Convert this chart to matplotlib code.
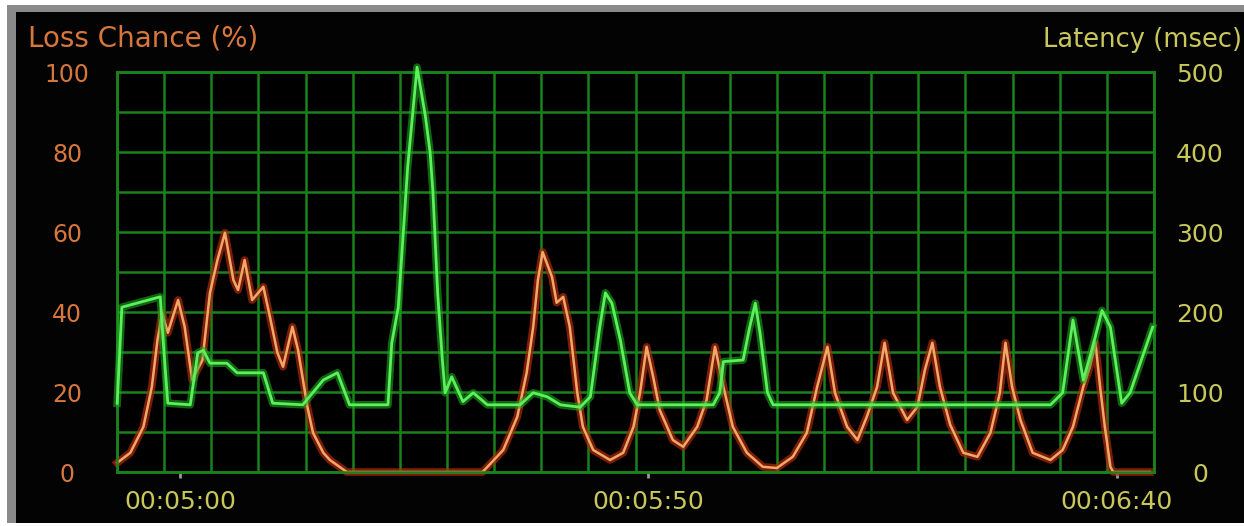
import numpy as np
import matplotlib
matplotlib.use("Agg")
import matplotlib.pyplot as plt
from matplotlib.patches import Rectangle

# time in seconds (00:05:00 = 300)
lat_t = [293.3, 293.8, 297.9, 298.2, 298.7, 301.1, 301.9, 302.5, 303.2, 305.0,
         306.1, 308.9, 309.9, 313.1, 315.3, 316.8, 318.1, 322.2, 322.6, 323.3,
         324.3, 325.3, 326.2, 326.7, 327.0, 327.5, 328.0, 328.3, 329.0, 330.2,
         331.3, 332.8, 336.3, 337.7, 339.2, 340.6, 342.7, 343.8, 344.8, 345.4,
         346.1, 347.0, 348.0, 348.8, 356.9, 357.6, 358.0, 360.1, 360.8, 361.4,
         361.9, 362.7, 363.3, 392.9, 394.2, 395.3, 396.4, 397.4, 398.4, 399.3,
         400.5, 401.4, 403.8]
latency = [86, 206, 219, 165, 86, 84, 149, 152, 136, 136,
           124, 124, 86, 84, 115, 124, 84, 84, 161, 206,
           381, 506, 444, 399, 349, 224, 140, 99, 119, 88,
           99, 84, 84, 99, 94, 84, 81, 94, 181, 224,
           211, 165, 99, 84, 84, 99, 138, 140, 181, 211,
           174, 99, 84, 84, 99, 190, 115, 156, 202, 181,
           86, 99, 181]

loss_t = [293.3, 294.7, 296.1, 297.0, 297.6, 298.1, 298.7, 299.8, 300.5, 301.3,
          302.4, 303.2, 304.0, 304.8, 305.7, 306.2, 306.9, 307.7, 308.9, 309.6,
          310.4, 311.0, 312.0, 312.6, 313.6, 314.2, 315.3, 316.0, 317.8, 332.3,
          334.5, 336.0, 337.0, 337.7, 338.2, 338.7, 339.7, 340.2, 340.9, 341.6,
          342.4, 343.0, 344.1, 345.9, 347.3, 348.4, 349.1, 349.8, 350.5, 351.2,
          352.6, 353.7, 355.2, 356.2, 357.1, 358.0, 359.0, 360.5, 362.2, 363.7,
          365.4, 366.9, 368.0, 369.1, 369.9, 371.2, 372.3, 373.3, 374.4, 375.2,
          376.1, 377.6, 378.7, 379.5, 380.3, 381.1, 382.2, 383.6, 385.1, 386.5,
          387.5, 388.1, 388.8, 389.7, 391.0, 392.9, 394.2, 395.3, 396.4, 397.1,
          397.7, 398.2, 398.7, 399.3, 399.6, 403.5]
loss = [2.3, 4.8, 11.3, 21.3, 33, 39.8, 34.8, 43, 36.3, 23,
        28, 44.8, 53, 59.8, 48, 45.5, 53, 43, 46.3, 38.8,
        29.8, 26.3, 36.3, 30.5, 16.3, 9.8, 4.8, 3, 0, 0,
        5.5, 13.8, 24.8, 36.3, 48, 55, 48.8, 42.3, 43.8, 36.3,
        19.8, 11.3, 5.5, 3, 4.8, 11.3, 19.8, 31.3, 23.8, 15.5,
        8, 6.3, 11.3, 18, 31.3, 21.3, 11.3, 4.8, 1.3, 1,
        3.8, 9.8, 21.3, 31.3, 19.8, 11.3, 8, 13.8, 21.3, 32.3,
        19.8, 13, 16.3, 25.5, 32.3, 21.3, 11.8, 4.8, 3.8, 9.8,
        19.8, 32.3, 21.3, 13, 4.8, 3, 5.5, 11.3, 21.3, 26.3,
        32.3, 21.3, 11.3, 1.3, 0, 0]

loss_ticks = [0, 20, 40, 60, 80, 100]
lat_ticks = [0, 100, 200, 300, 400, 500]
time_ticks = [300, 350, 400]
time_labels = ["00:05:00", "00:05:50", "00:06:40"]

grid_c = "#1a821a"
orange = "#d8773c"
yellow = "#c9c75a"

fig = plt.figure(figsize=(12.44, 5.26), dpi=100, facecolor="white")
# monitor-like frame: grey bevel on left and top
fig.patches.append(Rectangle((7 / 1244, 3 / 526), 1, 518 / 526, transform=fig.transFigure,
                             facecolor="#8a8a8a", edgecolor="none", zorder=-3))
fig.patches.append(Rectangle((16 / 1244, 3 / 526), 1, 511 / 526, transform=fig.transFigure,
                             facecolor="#030303", edgecolor="none", zorder=-2))

ax = fig.add_axes([117 / 1244, 1 - 472 / 526, 1037 / 1244, 400 / 526])
ax.set_facecolor("black")
ax2 = ax.twinx()

x0, x1 = 293.28, 403.95
ax.set_xlim(x0, x1)
ax.set_ylim(0, 100)
ax2.set_ylim(0, 500)

# grid
for gx in np.linspace(x0, x1, 23):
    ax.axvline(gx, color=grid_c, lw=1.8, zorder=1)
for gy in np.arange(0, 101, 10):
    ax.axhline(gy, color=grid_c, lw=1.8, zorder=1)
for sp in list(ax.spines.values()) + list(ax2.spines.values()):
    sp.set_color(grid_c)
    sp.set_linewidth(1.8)

# loss line (orange with red glow)
ax.plot(loss_t, loss, color="#b0280c", lw=5.5, alpha=0.7, zorder=3, clip_on=False,
        solid_joinstyle="round")
ax.plot(loss_t, loss, color="#f0a868", lw=1.8, zorder=4, clip_on=False)

# latency line (green with glow)
ax2.plot(lat_t, latency, color="#1fa81f", lw=5.5, alpha=0.6, zorder=3, clip_on=False,
         solid_joinstyle="round")
ax2.plot(lat_t, latency, color="#5cf05c", lw=2, zorder=4, clip_on=False)

ax.set_yticks(loss_ticks)
ax.set_yticklabels([str(v) for v in loss_ticks])
ax.tick_params(axis="y", length=0, pad=36, labelsize=17, labelcolor=orange)
for lbl in ax.get_yticklabels():
    lbl.set_ha("center")

ax2.set_yticks(lat_ticks)
ax2.set_yticklabels([str(v) for v in lat_ticks])
ax2.tick_params(axis="y", length=0, pad=33, labelsize=18, labelcolor=yellow)
for lbl in ax2.get_yticklabels():
    lbl.set_ha("center")

ax.set_xticks(time_ticks)
ax.set_xticklabels(time_labels)
ax.tick_params(axis="x", length=4, width=2, color="#9a9a9a", pad=9,
               labelsize=18, labelcolor=yellow)

fig.text(28 / 1244, 1 - 47 / 526, "Loss Chance (%)", color=orange, fontsize=20,
         ha="left", va="baseline")
fig.text(1242 / 1244, 1 - 47 / 526, "Latency (msec)", color=yellow, fontsize=18.5,
         ha="right", va="baseline")

fig.savefig("out.png", dpi=100, facecolor=fig.get_facecolor())
